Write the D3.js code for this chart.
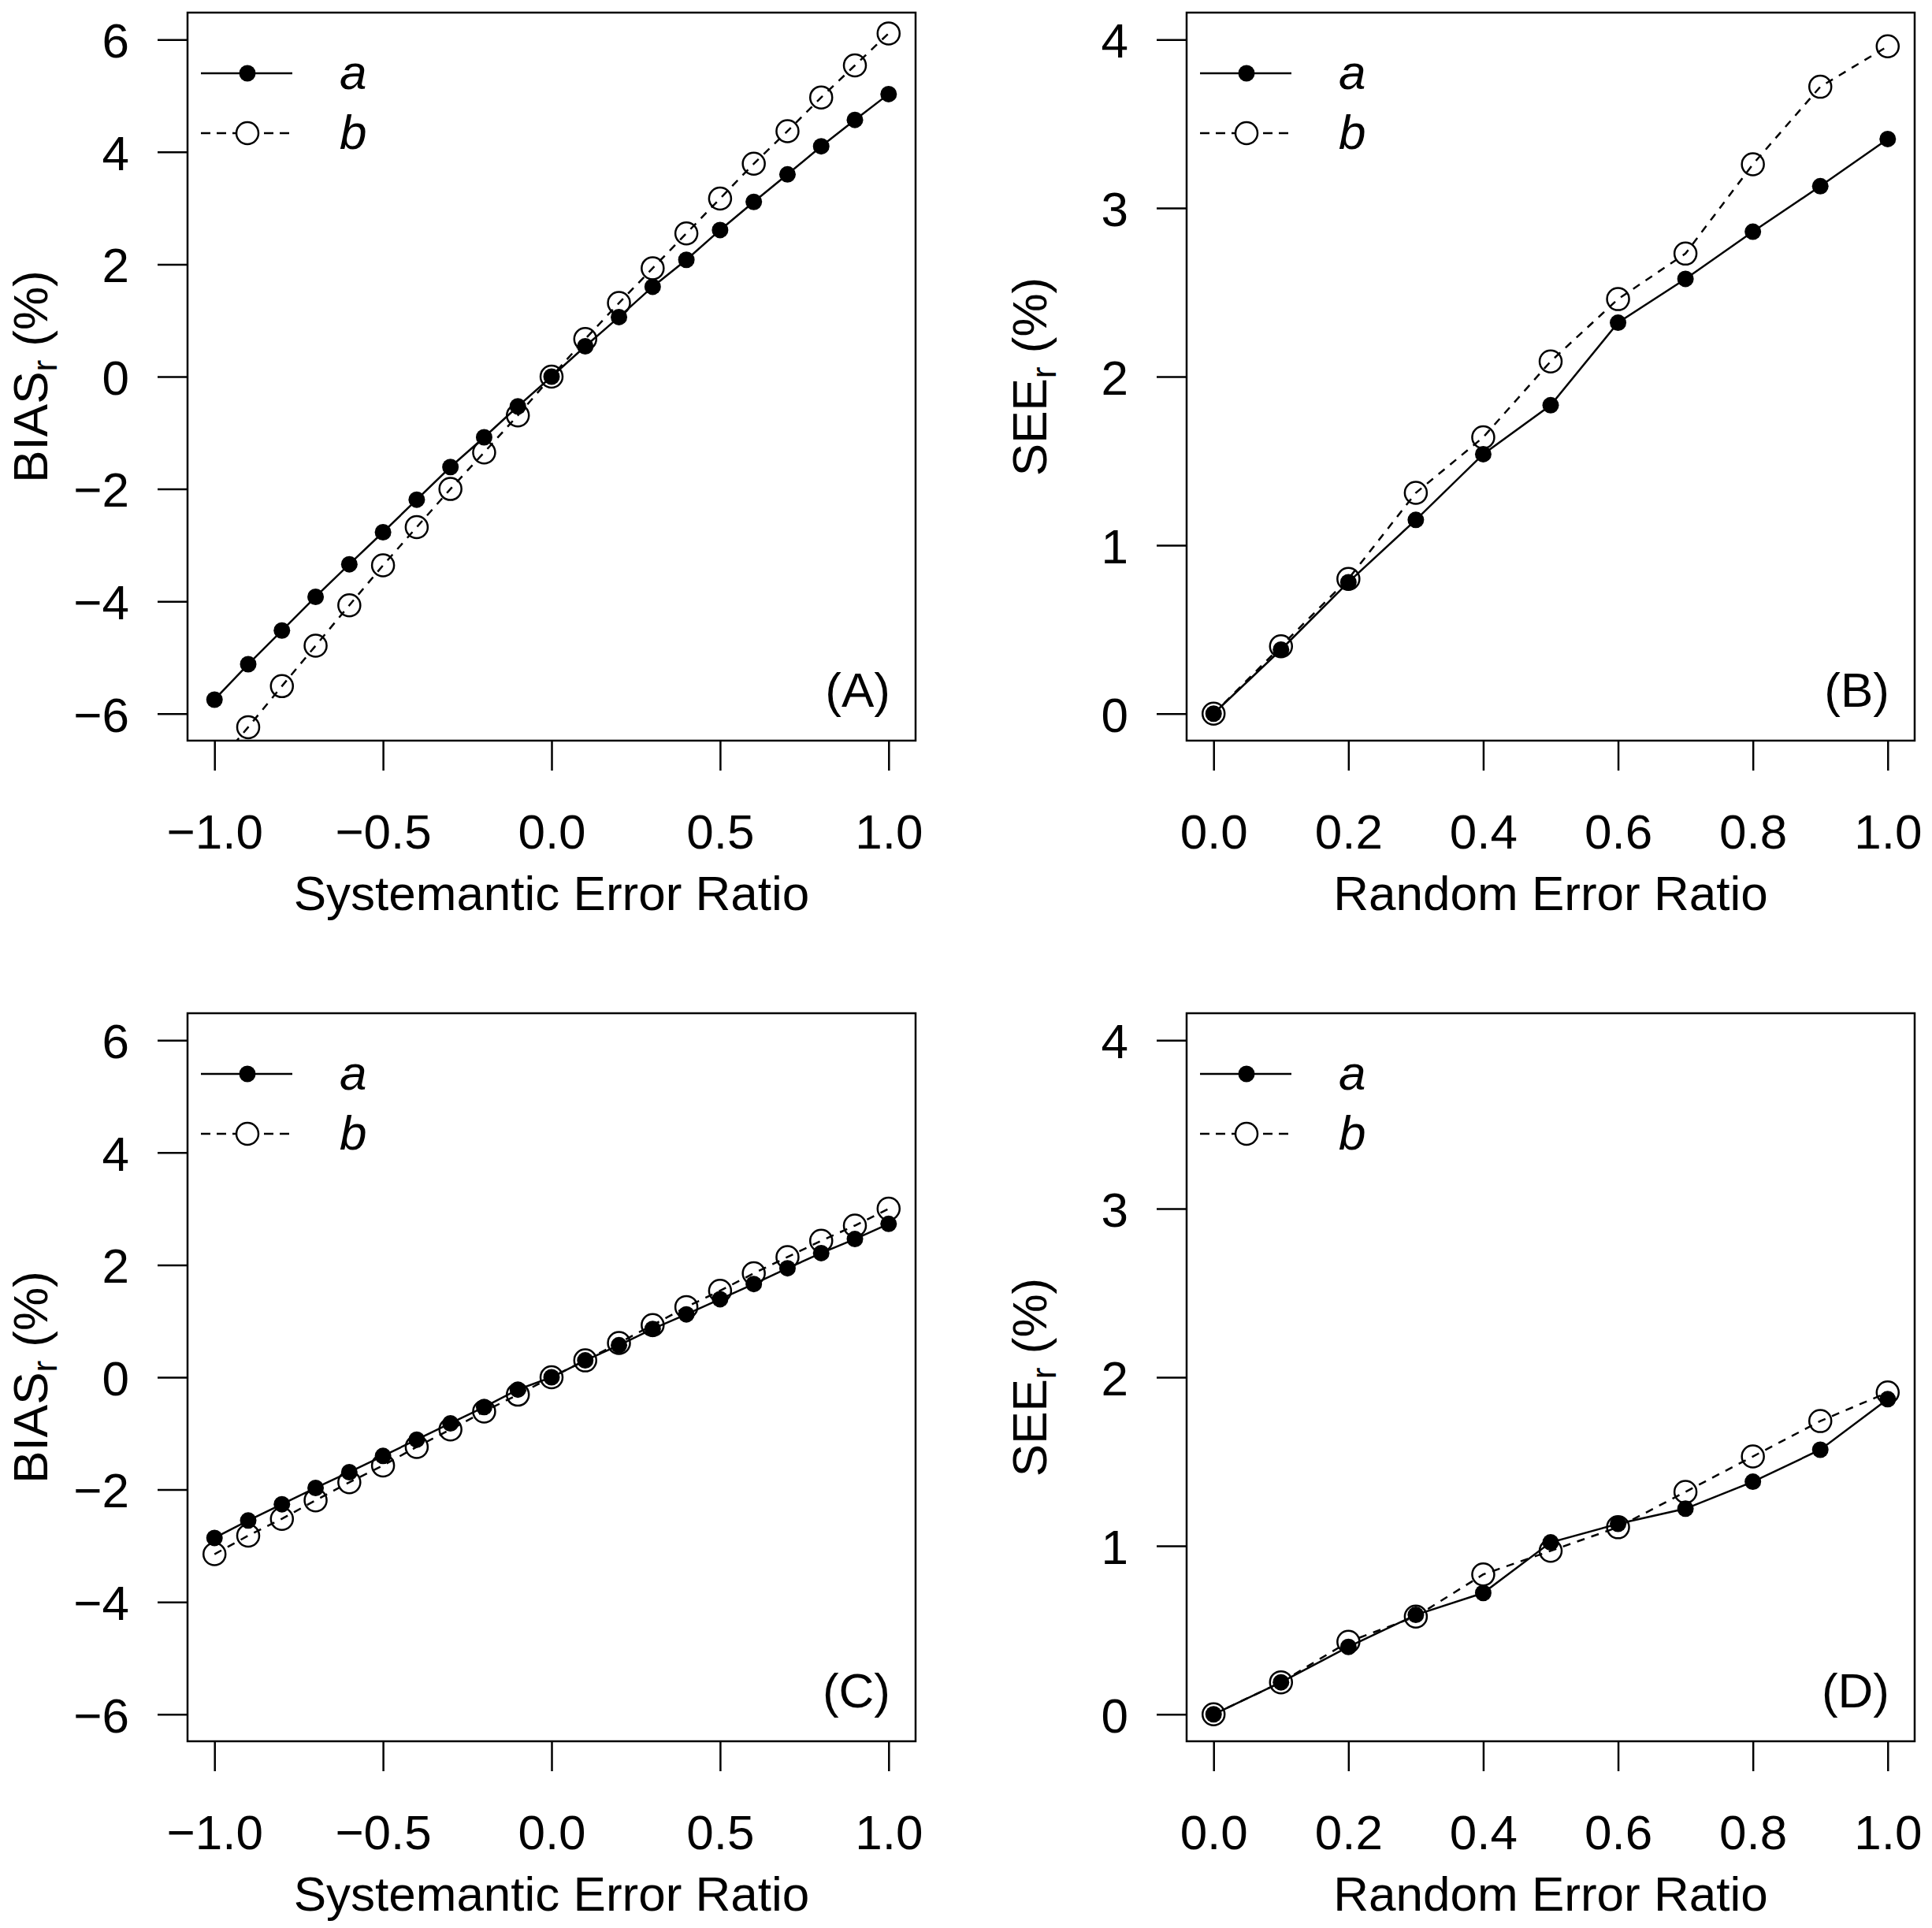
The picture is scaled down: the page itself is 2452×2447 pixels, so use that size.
<!DOCTYPE html>
<html>
<head>
<meta charset="utf-8">
<script src="https://cdn.jsdelivr.net/npm/d3@7"></script>
<style>
  body { margin: 0; background: #fff; }
  text { font-family: "Liberation Sans", Arial, sans-serif; fill: #000; }
</style>
</head>
<body>
<div id="chart"></div>
<script>
// Figure size
const width = 2452;
const height = 2447;

// x values (error ratios)
const sysRatio = [-1.0, -0.9, -0.8, -0.7, -0.6, -0.5, -0.4, -0.3, -0.2, -0.1, 0.0,
                  0.1, 0.2, 0.3, 0.4, 0.5, 0.6, 0.7, 0.8, 0.9, 1.0];
const randRatio = [0.0, 0.1, 0.2, 0.3, 0.4, 0.5, 0.6, 0.7, 0.8, 0.9, 1.0];

// Panel A - BIAS_r vs systematic error ratio
const biasA_a = [-5.75, -5.12, -4.52, -3.92, -3.34, -2.77, -2.19, -1.61, -1.08, -0.53, 0.00,
                 0.54, 1.06, 1.60, 2.08, 2.61, 3.11, 3.60, 4.10, 4.57, 5.03];
const biasA_b = [-6.95, -6.24, -5.51, -4.79, -4.07, -3.36, -2.68, -2.00, -1.35, -0.69, 0.00,
                 0.67, 1.31, 1.93, 2.55, 3.17, 3.79, 4.37, 4.97, 5.54, 6.11];

// Panel B - SEE_r vs random error ratio
const seeB_a = [0.00, 0.38, 0.78, 1.15, 1.54, 1.83, 2.32, 2.58, 2.86, 3.13, 3.41];
const seeB_b = [0.00, 0.40, 0.80, 1.31, 1.64, 2.09, 2.46, 2.73, 3.26, 3.72, 3.96];

// Panel C
const biasC_a = [-2.86, -2.55, -2.26, -1.97, -1.69, -1.40, -1.11, -0.82, -0.53, -0.22, 0.00,
                 0.30, 0.57, 0.86, 1.12, 1.39, 1.66, 1.94, 2.21, 2.46, 2.73];
const biasC_b = [-3.15, -2.82, -2.52, -2.19, -1.87, -1.57, -1.24, -0.93, -0.61, -0.31, 0.00,
                 0.30, 0.61, 0.93, 1.25, 1.54, 1.85, 2.14, 2.43, 2.70, 3.00];

// Panel D
const seeD_a = [0.00, 0.19, 0.40, 0.59, 0.72, 1.02, 1.13, 1.22, 1.38, 1.57, 1.87];
const seeD_b = [0.00, 0.19, 0.43, 0.58, 0.83, 0.97, 1.11, 1.32, 1.53, 1.74, 1.91];

// Ticks
const sysTicks = [-1.0, -0.5, 0.0, 0.5, 1.0];
const sysTickLabels = ["\u22121.0", "\u22120.5", "0.0", "0.5", "1.0"];
const randTicks = [0.0, 0.2, 0.4, 0.6, 0.8, 1.0];
const randTickLabels = ["0.0", "0.2", "0.4", "0.6", "0.8", "1.0"];
const biasTicks = [-6, -4, -2, 0, 2, 4, 6];
const biasTickLabels = ["\u22126", "\u22124", "\u22122", "0", "2", "4", "6"];
const seeTicks = [0, 1, 2, 3, 4];
const seeTickLabels = ["0", "1", "2", "3", "4"];

const seriesNames = ["a", "b"];

const boxW = 924;
const boxH = 924;
const fontSize = 62;

const svg = d3.select('#chart')
    .append('svg')
    .attr('width', width)
    .attr('height', height);

svg.append('rect').attr('width', width).attr('height', height).attr('fill', '#fff');

const panels = [
    { id: 'A', left: 238, top: 16, x: sysRatio, a: biasA_a, b: biasA_b,
      xdom: [-1, 1], ydom: [-6, 6], xt: sysTicks, xtl: sysTickLabels, yt: biasTicks, ytl: biasTickLabels,
      xlab: 'Systemantic Error Ratio', ylab: 'BIAS' },
    { id: 'B', left: 1506, top: 16, x: randRatio, a: seeB_a, b: seeB_b,
      xdom: [0, 1], ydom: [0, 4], xt: randTicks, xtl: randTickLabels, yt: seeTicks, ytl: seeTickLabels,
      xlab: 'Random Error Ratio', ylab: 'SEE' },
    { id: 'C', left: 238, top: 1286, x: sysRatio, a: biasC_a, b: biasC_b,
      xdom: [-1, 1], ydom: [-6, 6], xt: sysTicks, xtl: sysTickLabels, yt: biasTicks, ytl: biasTickLabels,
      xlab: 'Systemantic Error Ratio', ylab: 'BIAS' },
    { id: 'D', left: 1506, top: 1286, x: randRatio, a: seeD_a, b: seeD_b,
      xdom: [0, 1], ydom: [0, 4], xt: randTicks, xtl: randTickLabels, yt: seeTicks, ytl: seeTickLabels,
      xlab: 'Random Error Ratio', ylab: 'SEE' }
];

// R style 4% axis extension
function padDomain(d) {
    const p = (d[1] - d[0]) * 0.04;
    return [d[0] - p, d[1] + p];
}

panels.forEach(p => {
    const g = svg.append('g').attr('transform', `translate(${p.left},${p.top})`);

    const x = d3.scaleLinear().domain(padDomain(p.xdom)).range([0, boxW]);
    const y = d3.scaleLinear().domain(padDomain(p.ydom)).range([boxH, 0]);

    // clip to plot region like R does
    g.append('clipPath').attr('id', 'clip' + p.id)
        .append('rect').attr('width', boxW).attr('height', boxH);

    // axes
    const xAxis = g.append('g')
        .attr('transform', `translate(0,${boxH})`)
        .call(d3.axisBottom(x).tickValues(p.xt).tickSize(38)
            .tickFormat((d, i) => p.xtl[i]));
    xAxis.select('.domain').remove();
    xAxis.selectAll('line').attr('stroke', '#000').attr('stroke-width', 2.5);
    xAxis.selectAll('text')
        .attr('y', 137).attr('dy', null)
        .style('font-size', fontSize + 'px')
        .attr('fill', '#000');

    const yAxis = g.append('g')
        .call(d3.axisLeft(y).tickValues(p.yt).tickSize(38)
            .tickFormat((d, i) => p.ytl[i]));
    yAxis.select('.domain').remove();
    yAxis.selectAll('line').attr('stroke', '#000').attr('stroke-width', 2.5);
    yAxis.selectAll('text')
        .attr('x', -74).attr('dy', '0.36em')
        .style('font-size', fontSize + 'px')
        .attr('fill', '#000');

    // box
    g.append('rect')
        .attr('width', boxW).attr('height', boxH)
        .attr('fill', 'none').attr('stroke', '#000').attr('stroke-width', 2.5);

    // axis titles
    g.append('text')
        .attr('x', boxW / 2).attr('y', boxH + 215)
        .attr('text-anchor', 'middle')
        .style('font-size', fontSize + 'px')
        .text(p.xlab);

    const yl = g.append('text')
        .attr('transform', `translate(${-178},${boxH / 2}) rotate(-90)`)
        .attr('text-anchor', 'middle')
        .style('font-size', fontSize + 'px');
    yl.append('tspan').text(p.ylab);
    yl.append('tspan').attr('dy', 12).style('font-size', '44px').text('r');
    yl.append('tspan').attr('dy', -12).text(' (%)');

    // panel tag
    g.append('text')
        .attr('x', boxW - 32).attr('y', boxH - 43)
        .attr('text-anchor', 'end')
        .style('font-size', fontSize + 'px')
        .text(`(${p.id})`);

    // data
    const plot = g.append('g').attr('clip-path', `url(#clip${p.id})`);
    const line = d3.line().x(d => x(d[0])).y(d => y(d[1]));
    const ptsA = p.x.map((v, i) => [v, p.a[i]]);
    const ptsB = p.x.map((v, i) => [v, p.b[i]]);

    plot.append('path').datum(ptsA).attr('d', line)
        .attr('fill', 'none').attr('stroke', '#000').attr('stroke-width', 2.5);
    plot.selectAll('.pa').data(ptsA).enter().append('circle')
        .attr('cx', d => x(d[0])).attr('cy', d => y(d[1]))
        .attr('r', 10.5).attr('fill', '#000');

    plot.append('path').datum(ptsB).attr('d', line)
        .attr('fill', 'none').attr('stroke', '#000').attr('stroke-width', 2.5)
        .attr('stroke-dasharray', '10,9');
    plot.selectAll('.pb').data(ptsB).enter().append('circle')
        .attr('cx', d => x(d[0])).attr('cy', d => y(d[1]))
        .attr('r', 14).attr('fill', 'none')
        .attr('stroke', '#000').attr('stroke-width', 2.5);

    // legend
    const leg = g.append('g').attr('transform', 'translate(17,77)');
    seriesNames.forEach((name, i) => {
        const ly = i * 76;
        leg.append('line')
            .attr('x1', 0).attr('x2', 116).attr('y1', ly).attr('y2', ly)
            .attr('stroke', '#000').attr('stroke-width', 2.5)
            .attr('stroke-dasharray', i === 0 ? null : '12,8');
        if (i === 0) {
            leg.append('circle').attr('cx', 59).attr('cy', ly).attr('r', 10.5).attr('fill', '#000');
        } else {
            leg.append('circle').attr('cx', 59).attr('cy', ly).attr('r', 14)
                .attr('fill', '#fff').attr('stroke', '#000').attr('stroke-width', 2.5);
        }
        leg.append('text')
            .attr('x', 176).attr('y', ly + 20)
            .style('font-size', fontSize + 'px')
            .style('font-style', 'italic')
            .text(name);
    });
});
</script>
</body>
</html>
